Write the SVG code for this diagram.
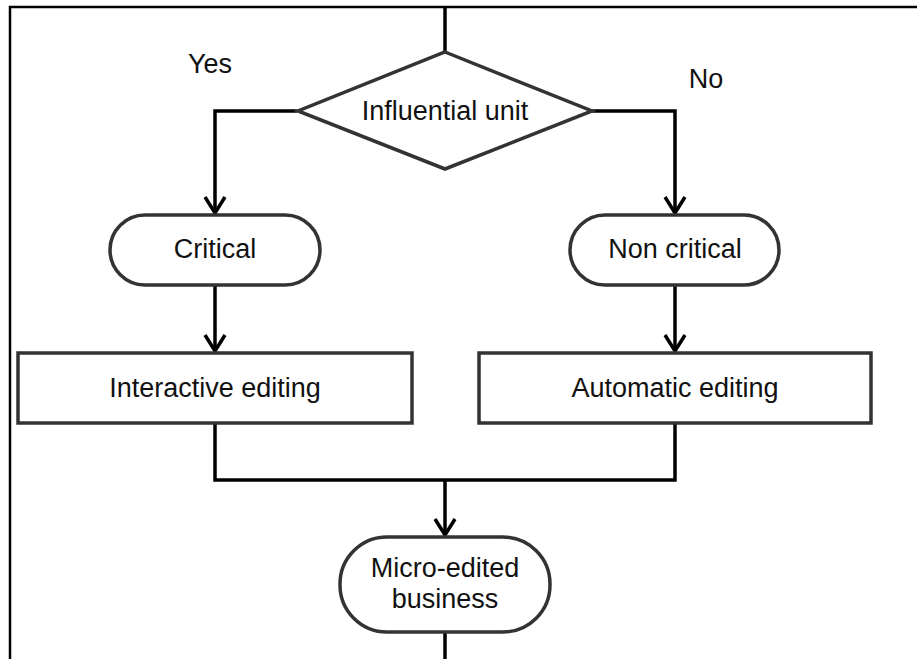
<svg xmlns="http://www.w3.org/2000/svg" width="917" height="659" viewBox="0 0 917 659">
<style>
.shape{fill:#fff;stroke:#333;stroke-width:3.5}
.conn{fill:none;stroke:#000;stroke-width:3.5}
.lbl{font-family:"Liberation Sans",Arial,sans-serif;font-size:27px;fill:#111;text-anchor:middle}
.frame{fill:none;stroke:#000;stroke-width:2.5}
</style>
<defs>
<marker id="arr" viewBox="0 0 20 24" refX="18" refY="12" markerWidth="20" markerHeight="24" markerUnits="userSpaceOnUse" orient="auto">
<path d="M2,2 L18,12 L2,22" fill="none" stroke="#000" stroke-width="3.5"/>
</marker>
</defs>
<rect width="917" height="659" fill="#fff"/>
<path class="frame" d="M10,659 V7 H917"/>
<g id="connectors">
<path class="conn" d="M445,6 V52"/>
<path class="conn" d="M297,111 H215 V213" marker-end="url(#arr)"/>
<path class="conn" d="M592,111 H675 V213" marker-end="url(#arr)"/>
<path class="conn" d="M215,285 V351" marker-end="url(#arr)"/>
<path class="conn" d="M675,285 V351" marker-end="url(#arr)"/>
<path class="conn" d="M215,423 V480 H675 V423"/>
<path class="conn" d="M445,480 V535" marker-end="url(#arr)"/>
<path class="conn" d="M445,632 V659"/>
</g>
<g id="decision">
<polygon class="shape" points="445,52 592,111 445,169 298,111"/>
<text class="lbl" x="445" y="120">Influential unit</text>
</g>
<g id="yes-label"><text class="lbl" x="210" y="73">Yes</text></g>
<g id="no-label"><text class="lbl" x="706" y="88">No</text></g>
<g id="critical">
<rect class="shape" x="110" y="215" width="210" height="70" rx="35"/>
<text class="lbl" x="215" y="258">Critical</text>
</g>
<g id="noncritical">
<rect class="shape" x="570" y="215" width="209" height="70" rx="35"/>
<text class="lbl" x="675" y="258">Non critical</text>
</g>
<g id="interactive">
<rect class="shape" x="18" y="353" width="394" height="70"/>
<text class="lbl" x="215" y="397">Interactive editing</text>
</g>
<g id="automatic">
<rect class="shape" x="479" y="353" width="392" height="70"/>
<text class="lbl" x="675" y="397">Automatic editing</text>
</g>
<g id="microedited">
<rect class="shape" x="340" y="537" width="210" height="95" rx="47"/>
<text class="lbl" x="445" y="577">Micro-edited</text>
<text class="lbl" x="445" y="608">business</text>
</g>
</svg>
